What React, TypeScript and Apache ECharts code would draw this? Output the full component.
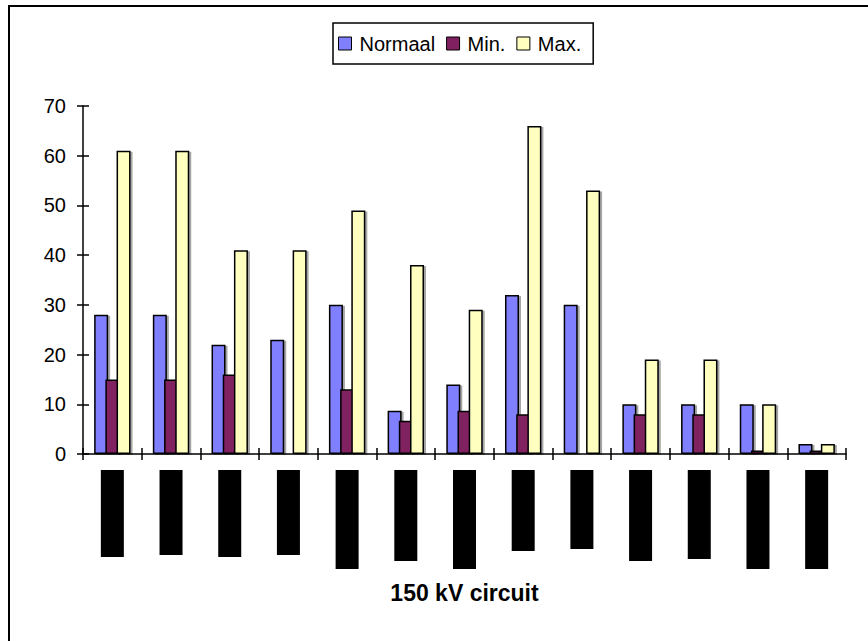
import React, { useEffect, useRef } from "react";
import * as echarts from "echarts";

// ---- data ----
const categories = ["1", "2", "3", "4", "5", "6", "7", "8", "9", "10", "11", "12", "13"];
const normaal = [28, 28, 22, 23, 30, 8.7, 14, 32, 30, 10, 10, 10, 2];
const minVals = [15, 15, 16, null, 13, 6.7, 8.7, 8, null, 8, 8, 0.7, 0.7];
const maxVals = [61, 61, 41, 41, 49, 38, 29, 66, 53, 19, 19, 10, 2];
const seriesNames = ["Normaal", "Min.", "Max."];
const axisTitle = "150 kV circuit";
const yMin = 0;
const yMax = 70;
const yInterval = 10;

// ---- styling (redacted category label boxes, heights in px) ----
const LABEL_BOX_HEIGHTS = [87, 85, 87, 85, 99, 91, 99, 81, 79, 91, 89, 99, 99];
const COLORS = ["#8080FF", "#802060", "#FFFFC0"];

export default function App() {
  const ref = useRef<HTMLDivElement>(null);

  useEffect(() => {
    if (!ref.current) return;
    const chart = echarts.init(ref.current, null, { renderer: "svg" });
    const font = "'Liberation Sans', Arial, sans-serif";
    const rich: Record<string, any> = {};
    LABEL_BOX_HEIGHTS.forEach((h, i) => {
      rich["b" + i] = { width: 23, height: h, backgroundColor: "#000", fontSize: 1 };
    });
    const barStyle = (color: string) => ({
      color,
      borderColor: "#000",
      borderWidth: 1.5,
      shadowColor: "rgba(0,0,0,0.35)",
      shadowBlur: 0,
      shadowOffsetX: 2,
      shadowOffsetY: 1,
    });
    const dataSets = [normaal, minVals, maxVals];

    chart.setOption({
      animation: false,
      backgroundColor: "#fff",
      textStyle: { fontFamily: font, color: "#000" },
      graphic: [
        {
          type: "rect",
          silent: true,
          z: 100,
          shape: { x: 9, y: 6, width: 900, height: 700 },
          style: { fill: "none", stroke: "#000", lineWidth: 2 },
        },
      ],
      legend: {
        left: 333,
        top: 23,
        orient: "horizontal",
        data: seriesNames,
        icon: "path://M0,0H10V10H0Z",
        itemWidth: 19,
        itemHeight: 13,
        itemGap: 11,
        padding: [10.5, 12, 10.5, 5],
        borderColor: "#000",
        borderWidth: 1.5,
        backgroundColor: "#fff",
        textStyle: { fontSize: 20, color: "#000", fontFamily: font },
        itemStyle: {
          borderColor: "#000",
          borderWidth: 1,
          shadowBlur: 0,
          shadowOffsetX: 0,
          shadowOffsetY: 0,
          shadowColor: "transparent",
        },
      },
      grid: { left: 83, right: 22, top: 106, bottom: 187, containLabel: false },
      xAxis: [
        {
          type: "category",
          data: categories,
          position: "bottom",
          boundaryGap: true,
          axisLine: { show: true, lineStyle: { color: "#000", width: 1.5 } },
          axisTick: { show: true, inside: false, length: 6, lineStyle: { color: "#000", width: 1.5 } },
          axisLabel: {
            show: true,
            interval: 0,
            margin: 16,
            formatter: (_v: string, i: number) => "{b" + i + "| }",
            rich,
          },
          name: axisTitle,
          nameLocation: "middle",
          nameGap: 127,
          nameTextStyle: { fontSize: 23, fontWeight: "bold", color: "#000", fontFamily: font },
          splitLine: { show: false },
        },
        {
          type: "category",
          data: categories,
          position: "bottom",
          boundaryGap: true,
          axisLine: { show: false },
          axisTick: { show: true, inside: true, length: 6, lineStyle: { color: "#000", width: 1.5 } },
          axisLabel: { show: false },
          splitLine: { show: false },
        },
      ],
      yAxis: [
        {
          type: "value",
          position: "left",
          min: yMin,
          max: yMax,
          interval: yInterval,
          axisLine: { show: true, lineStyle: { color: "#000", width: 1.5 } },
          axisTick: { show: true, inside: false, length: 6, lineStyle: { color: "#000", width: 1.5 } },
          axisLabel: { fontSize: 20, color: "#000", margin: 17, fontFamily: font },
          splitLine: { show: false },
        },
        {
          type: "value",
          position: "left",
          min: yMin,
          max: yMax,
          interval: yInterval,
          axisLine: { show: false },
          axisTick: { show: true, inside: true, length: 6, lineStyle: { color: "#000", width: 1.5 } },
          axisLabel: { show: false },
          splitLine: { show: false },
        },
      ],
      series: seriesNames.map((name, i) => ({
        name,
        type: "bar",
        xAxisIndex: 0,
        yAxisIndex: 0,
        data: dataSets[i],
        barWidth: 14,
        barGap: "-20%",
        itemStyle: barStyle(COLORS[i]),
      })),
    });
    return () => chart.dispose();
  }, []);

  return (
    <div
      ref={ref}
      style={{ position: "absolute", left: 0, top: 0, width: 868, height: 641 }}
    />
  );
}
